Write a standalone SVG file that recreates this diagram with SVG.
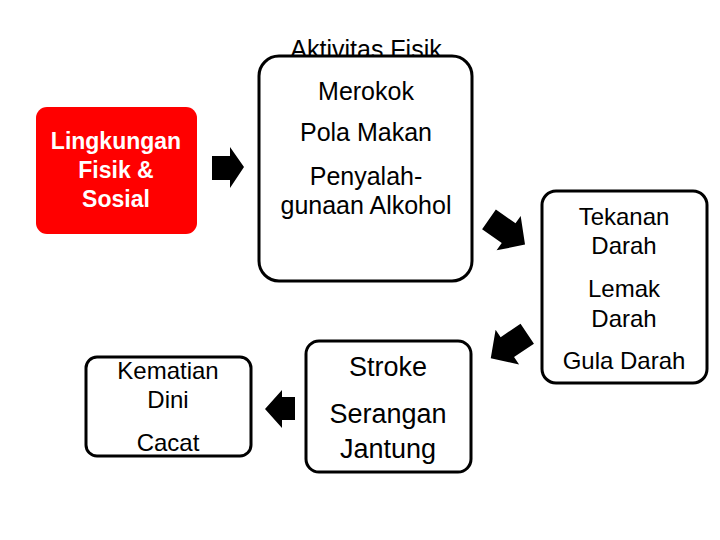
<svg xmlns="http://www.w3.org/2000/svg" width="720" height="540" viewBox="0 0 720 540">
<style>
.box{fill:#fff;stroke:#000;stroke-width:3}
.t{font-family:"Liberation Sans","Open Sans",sans-serif;fill:#000;text-anchor:middle}
.w{font-family:"Liberation Sans","Open Sans",sans-serif;fill:#fff;text-anchor:middle;font-weight:bold;font-size:23px}
.arr{fill:#000}
</style>
<rect width="720" height="540" fill="#fff"/>
<g id="lingkungan">
<rect x="36" y="107" width="161" height="127" rx="11" fill="#ff0000"/>
<text class="w" x="116" y="149">Lingkungan</text>
<text class="w" x="116" y="178">Fisik &amp;</text>
<text class="w" x="116" y="207">Sosial</text>
</g>
<g id="perilaku">
<text class="t" x="366" y="58" font-size="25">Aktivitas Fisik</text>
<rect class="box" x="259" y="56" width="213" height="225" rx="20"/>
<text class="t" x="366" y="100" font-size="25">Merokok</text>
<text class="t" x="366" y="141" font-size="25">Pola Makan</text>
<text class="t" x="366" y="185" font-size="25">Penyalah-</text>
<text class="t" x="366" y="214" font-size="25">gunaan Alkohol</text>
</g>
<g id="faktor">
<rect class="box" x="542" y="191" width="165" height="192" rx="14"/>
<text class="t" x="624" y="225" font-size="24">Tekanan</text>
<text class="t" x="624" y="254" font-size="24">Darah</text>
<text class="t" x="624" y="297" font-size="24">Lemak</text>
<text class="t" x="624" y="327" font-size="24">Darah</text>
<text class="t" x="624" y="369" font-size="24">Gula Darah</text>
</g>
<g id="penyakit">
<rect class="box" x="306" y="341" width="165" height="131" rx="13"/>
<text class="t" x="388" y="376" font-size="27">Stroke</text>
<text class="t" x="388" y="423" font-size="27">Serangan</text>
<text class="t" x="388" y="458" font-size="27">Jantung</text>
</g>
<g id="akibat">
<rect class="box" x="86" y="357" width="165" height="99" rx="11"/>
<text class="t" x="168" y="379" font-size="24">Kematian</text>
<text class="t" x="168" y="408" font-size="24">Dini</text>
<text class="t" x="168" y="451" font-size="24">Cacat</text>
</g>
<g id="connectors">
<polygon class="arr" points="212,156 230,156 230,147 244,167 230,188 230,180 212,180"/>
<polygon class="arr" transform="translate(507,232) rotate(35)" points="-22,-12 2,-12 2,-21 22,0 2,21 2,12 -22,12"/>
<polygon class="arr" transform="translate(509,346) rotate(146)" points="-22,-12 2,-12 2,-21 22,0 2,21 2,12 -22,12"/>
<polygon class="arr" points="295,397 282,397 282,390 265,409 282,428 282,420 295,420"/>
</g>
</svg>
